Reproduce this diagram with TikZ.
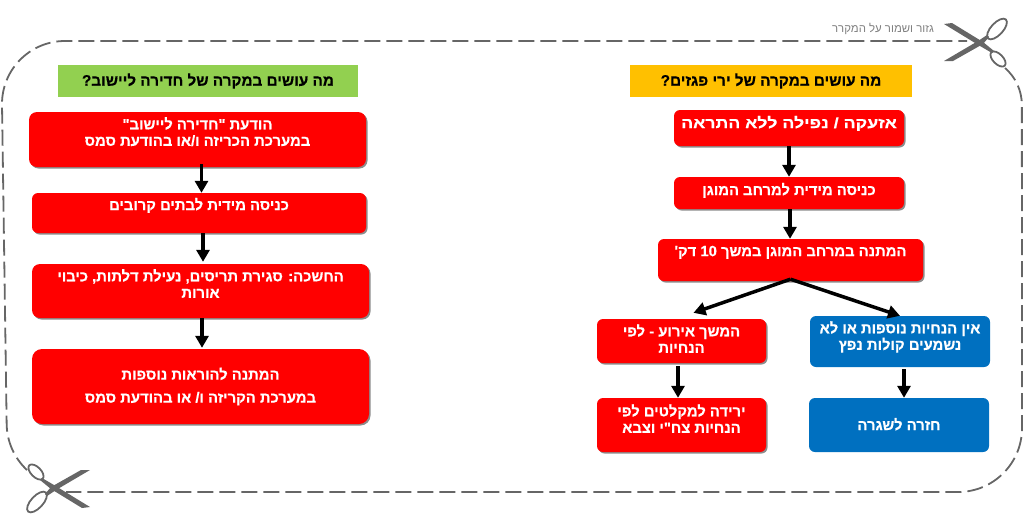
\documentclass[tikz,border=0pt]{standalone}
\usepackage{fontspec}
\usetikzlibrary{arrows.meta,shadows}
\TeXXeTstate=1
\newfontfamily\hebfont[Script=Hebrew,BoldFeatures={FakeBold=0.5}]{Liberation Sans}
\newcommand{\heb}[1]{\beginR #1\endR}
\definecolor{alarmred}{HTML}{FF0000}
\definecolor{calmblue}{HTML}{0070C0}
\definecolor{headyellow}{HTML}{FFC000}
\definecolor{headgreen}{HTML}{92D050}
\definecolor{cutgray}{HTML}{666666}
\tikzset{
	flowbox/.style={rounded corners=6pt,inner sep=0pt,align=center,text=white,font=\hebfont\bfseries\fontsize{14.8}{16.5}\selectfont},
	redbox/.style={flowbox,fill=alarmred,drop shadow={shadow xshift=1.5pt,shadow yshift=-1.5pt,opacity=.45,fill=black}},
	bluebox/.style={flowbox,fill=calmblue},
	headbox/.style={inner sep=0pt,minimum height=32pt,text depth=3pt,font=\hebfont\bfseries\fontsize{15.3}{18}\selectfont},
	flowarrow/.style={line width=3.5pt,-{Triangle[length=12pt,width=13pt]}},
	cutline/.style={cutgray,line width=1.8pt,dash pattern=on 16pt off 6pt},
	scissors/.pic={
		\fill[cutgray] (-36,-19) -- (-28,-20) -- (3,-1) -- (14,8) -- (12,10) -- (0,3) -- cycle;
		\fill[cutgray] (-36,18) -- (-27,18) -- (3,1) -- (9,-6) -- (7,-8) -- (-2,-2) -- cycle;
		\draw[cutgray,line width=1.8pt,rotate around={47:(17,-14)}] (17,-14) ellipse (13pt and 6pt);
		\draw[cutgray,line width=1.8pt,rotate around={-45:(18,16)}] (18,16) ellipse (9.5pt and 5pt);
	}
}
\begin{document}
\begin{tikzpicture}[x=1pt,y=-1pt]
	\useasboundingbox (0,0) rectangle (1024,528);
	\draw[cutline] (1005,68) arc[start angle=-49,end angle=0,radius=49] -- (1022,428) arc[start angle=0,end angle=90,radius=64] -- (66,492);
	\draw[cutline] (27,470) arc[start angle=133,end angle=180,radius=64] -- (2,104) arc[start angle=180,end angle=270,radius=63] -- (967,41);
	\pic at (980,43) {scissors};
	\pic[rotate=180] at (54,488) {scissors};
	\node[text=gray,font=\hebfont\fontsize{11.4}{13}\selectfont] (cuttext) at (883,29) {\heb{גזור ושמור על המקרר}};

	\node[headbox,fill=headyellow,minimum width=282pt] (headright) at (771,81) {\heb{מה עושים במקרה של ירי פגזים?}};
	\node[redbox,minimum width=230pt,minimum height=36pt,text depth=12pt] (r1) at (789,128) {\addfontfeatures{FakeStretch=1.2}\heb{אזעקה / נפילה ללא התראה}};
	\node[redbox,minimum width=230pt,minimum height=32pt,text depth=8pt] (r2) at (789,193) {\heb{כניסה מידית למרחב המוגן}};
	\node[redbox,minimum width=265pt,minimum height=42pt,text depth=18pt] (r3) at (790.5,260) {\heb{המתנה במרחב המוגן במשך \beginL10\endL{} דק'}};
	\node[redbox,minimum width=169pt,minimum height=44pt,text depth=5pt] (r4) at (681.5,341) {\heb{המשך אירוע - לפי}\\\heb{הנחיות}};
	\node[bluebox,minimum width=180pt,minimum height=51pt,text depth=12pt] (b4) at (900,341.5) {\heb{אין הנחיות נוספות או לא}\\\heb{נשמעים קולות נפץ}};
	\node[redbox,minimum width=169pt,minimum height=54pt,text depth=13pt] (r5) at (681.5,425) {\heb{ירידה למקלטים לפי}\\\heb{הנחיות צח"י וצבא}};
	\node[bluebox,minimum width=180pt,minimum height=54pt,text depth=2pt] (b5) at (899,425) {\heb{חזרה לשגרה}};

	\node[headbox,fill=headgreen,minimum width=300pt] (headleft) at (208,81) {\heb{מה עושים במקרה של חדירה ליישוב?}};
	\node[redbox,rounded corners=8pt,minimum width=337pt,minimum height=55pt,text depth=16pt] (l1) at (197.5,139.5) {\heb{הודעת "חדירה ליישוב"}\\\heb{במערכת הכריזה ו/או בהודעת סמס}};
	\node[redbox,minimum width=334pt,minimum height=40pt,text depth=18pt] (l2) at (199,213) {\heb{כניסה מידית לבתים קרובים}};
	\node[redbox,rounded corners=8pt,minimum width=337pt,minimum height=54pt,text depth=15pt] (l3) at (200.5,291) {\heb{החשכה: סגירת תריסים, נעילת דלתות, כיבוי}\\\heb{אורות}};
	\node[redbox,rounded corners=10pt,minimum width=337pt,minimum height=75pt,font=\hebfont\bfseries\fontsize{14.8}{23}\selectfont] (l4) at (200.5,386.5) {\heb{המתנה להוראות נוספות}\\\heb{במערכת הקריזה ו/ או בהודעת סמס}};

	\draw[flowarrow] (r1.south) -- (r2.north);
	\draw[flowarrow] ([xshift=1pt]r2.south) -- ([xshift=-.5pt]r3.north);
	\draw[flowarrow] ([yshift=2pt]r3.south) -- ([xshift=12pt,yshift=6pt]r4.north);
	\draw[flowarrow] ([yshift=2pt]r3.south) -- (b4.north);
	\draw[flowarrow] ([xshift=-3.5pt,yshift=-3pt]r4.south) -- ([xshift=-3.5pt]r5.north);
	\draw[flowarrow] ([xshift=4pt,yshift=-2pt]b4.south) -- ([xshift=5pt]b5.north);
	\draw[flowarrow] ([xshift=4pt,yshift=3pt]l1.south) -- ([xshift=2.5pt]l2.north);
	\draw[flowarrow] ([xshift=4pt]l2.south) -- ([xshift=2.5pt,yshift=2pt]l3.north);
	\draw[flowarrow] ([xshift=1.5pt]l3.south) -- ([xshift=1.5pt,yshift=1pt]l4.north);
\end{tikzpicture}
\end{document}
